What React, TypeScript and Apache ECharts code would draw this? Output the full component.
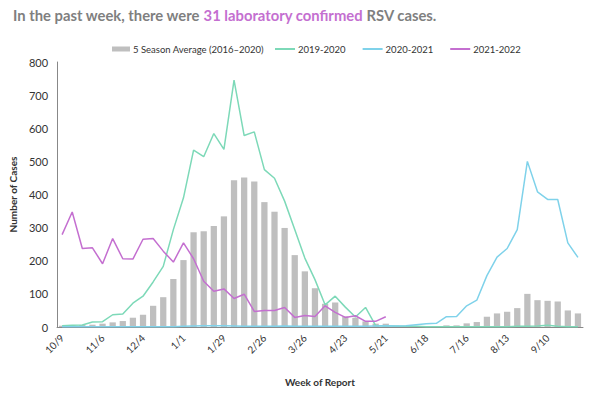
import React, { useEffect, useRef } from "react";
import * as echarts from "echarts";

const weeks = [
  "10/9", "10/16", "10/23", "10/30", "11/6", "11/13", "11/20", "11/27",
  "12/4", "12/11", "12/18", "12/25", "1/1", "1/8", "1/15", "1/22",
  "1/29", "2/5", "2/12", "2/19", "2/26", "3/5", "3/12", "3/19",
  "3/26", "4/2", "4/9", "4/16", "4/23", "4/30", "5/7", "5/14",
  "5/21", "5/28", "6/4", "6/11", "6/18", "6/25", "7/2", "7/9",
  "7/16", "7/23", "7/30", "8/6", "8/13", "8/20", "8/27", "9/3",
  "9/10", "9/17", "9/24", "10/1",
];

const seasonAverage = [
  4, 5, 6, 7, 10, 14, 18, 28, 37, 64, 90, 145, 202, 286, 289, 305,
  334, 443, 451, 439, 377, 348, 299, 217, 168, 117, 70, 74, 32, 28, 17, 10,
  10, 4, 3, 2, 3, 1, 5, 5, 11, 15, 31, 41, 46, 57,
  100, 81, 79, 77, 50, 41,
];

const season1920 = [
  4, 5, 6, 15, 16, 37, 39, 72, 93, 136, 183, 294, 390, 534, 514, 584,
  536, 745, 578, 589, 475, 449, 380, 294, 208, 143, 67, 93, 60, 30, 59, 4,
  3, 2, 2, 2, 1, 1, 1, 1, 1, 1, 1, 1, 1, 2,
  2, 3, 5, 2, 1, 1,
];

const season2021 = [
  1, 1, 1, 1, 1, 1, 1, 1, 1, 1, 1, 1, 2, 3, 4, 4,
  4, 3, 2, 2, 2, 2, 3, 2, 2, 2, 2, 2, 2, 2, 2, 3,
  4, 3, 4, 7, 10, 11, 31, 32, 64, 81, 155, 211, 237, 294,
  500, 408, 385, 385, 254, 210,
];

const season2122 = [
  279, 347, 237, 239, 191, 267, 206, 205, 265, 267, 229, 196, 254, 206, 138, 108,
  115, 86, 99, 47, 50, 50, 59, 29, 35, 32, 64, 44, 29, 34, 17, 17,
  31,
];

const FONT = "Lato, 'Liberation Sans', sans-serif";
const legendText = { fontSize: 9.5, color: "#333", fontFamily: FONT, padding: [0, 0, 0, -2] };

export default function App() {
  const ref = useRef<HTMLDivElement>(null);
  useEffect(() => {
    const chart = echarts.init(ref.current!, null, { renderer: "svg" });
    chart.setOption({
      animation: false,
      textStyle: { fontFamily: FONT },
      title: {
        left: 8,
        top: 2,
        text: "{a|In the past week, there were }{b|31 laboratory confirmed}{a| RSV cases.}",
        textStyle: {
          rich: {
            a: { fontSize: 14.8, fontWeight: "bold", color: "#7f7f7f", fontFamily: FONT },
            b: { fontSize: 14.8, fontWeight: "bold", color: "#c46fd0", fontFamily: FONT },
          },
        },
      },
      legend: [
        {
          top: 39,
          left: 107,
          itemWidth: 18,
          itemHeight: 5,
          textStyle: legendText,
          data: [{ name: "5 Season Average (2016–2020)", icon: "rect" }],
        },
        {
          top: 39,
          left: 270,
          itemGap: 17,
          itemWidth: 20,
          itemHeight: 2,
          textStyle: legendText,
          data: [
            { name: "2019-2020", icon: "rect" },
            { name: "2020-2021", icon: "rect" },
            { name: "2021-2022", icon: "rect" },
          ],
        },
      ],
      grid: { left: 55, right: 17, top: 62, bottom: 72, containLabel: false },
      xAxis: {
        type: "category",
        data: weeks,
        name: "Week of Report",
        nameLocation: "middle",
        nameGap: 50,
        nameTextStyle: { fontSize: 10, fontWeight: "bold", color: "#333", fontFamily: FONT },
        axisLine: { lineStyle: { color: "#888", width: 1 } },
        axisTick: { show: false },
        axisLabel: {
          interval: 3,
          rotate: 45,
          fontSize: 10,
          color: "#333",
          margin: 9,
        },
      },
      yAxis: {
        type: "value",
        min: 0,
        max: 800,
        interval: 100,
        name: "Number of Cases",
        nameLocation: "middle",
        nameGap: 31,
        nameTextStyle: { fontSize: 10, fontWeight: "bold", color: "#333", fontFamily: FONT },
        axisLine: { show: true, lineStyle: { color: "#888", width: 1 } },
        axisTick: { show: false },
        splitLine: { show: false },
        axisLabel: { fontSize: 11, color: "#333", margin: 9 },
      },
      series: [
        {
          name: "5 Season Average (2016–2020)",
          type: "bar",
          data: seasonAverage,
          barWidth: "62%",
          itemStyle: { color: "#bfbfbf" },
        },
        {
          name: "2019-2020",
          type: "line",
          data: season1920,
          symbol: "none",
          lineStyle: { color: "#7dd9b8", width: 1.5 },
          itemStyle: { color: "#7dd9b8" },
        },
        {
          name: "2020-2021",
          type: "line",
          data: season2021,
          symbol: "none",
          lineStyle: { color: "#7fd2ea", width: 1.5 },
          itemStyle: { color: "#7fd2ea" },
        },
        {
          name: "2021-2022",
          type: "line",
          data: season2122,
          symbol: "none",
          lineStyle: { color: "#c46fd0", width: 1.5 },
          itemStyle: { color: "#c46fd0" },
        },
      ],
    });
    return () => chart.dispose();
  }, []);
  return (
    <div
      ref={ref}
      style={{ position: "fixed", left: 0, top: 0, width: 600, height: 399, background: "#fff" }}
    />
  );
}
